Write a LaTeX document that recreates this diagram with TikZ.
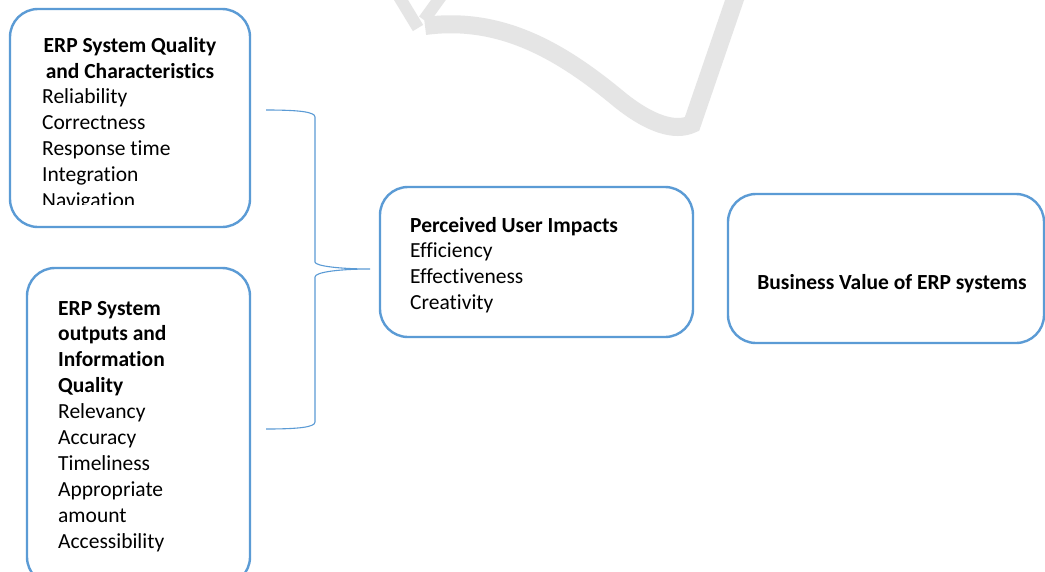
\documentclass[tikz,border=0pt]{standalone}
\usepackage{fontspec}
\setmainfont{Carlito}[Ligatures=NoCommon]
\usepackage{tikz}
\usetikzlibrary{positioning,calc}

\definecolor{boxblue}{RGB}{91,155,213}
\definecolor{markgray}{RGB}{229,229,229}
\newcommand{\boxfont}{\fontsize{21.5}{26}\selectfont}

\tikzset{
    box/.style={draw=boxblue, line width=2.4pt, rounded corners=28pt, inner sep=0pt},
    brace/.style={draw=boxblue, line width=1.1pt},
    head/.style={font=\boxfont\bfseries, inner sep=0pt, anchor=base},
    bold/.style={font=\boxfont\bfseries, inner sep=0pt, anchor=base west},
    item/.style={font=\boxfont, inner sep=0pt, anchor=base west},
}

\begin{document}
\begin{tikzpicture}[x=1pt, y=-1pt]
    \clip (0,0) rectangle (1045,571);
    \fill[white] (0,0) rectangle (1045,571);

    % watermark in the background
    \draw[markgray, line width=18pt, line join=miter]
        (425,26) .. controls (500,16) and (560,50) .. (620,100)
        .. controls (650,124) and (675,132) .. (692,124) -- (738,-10);
    \draw[markgray, line width=12pt] (398,-5) -- (418,28);
    \draw[markgray, line width=12pt] (442,-5) -- (424,20);

    % Boxes
    \node [box, minimum width=240pt, minimum height=218pt] (quality) at (130,118) {};
    \node [box, minimum width=223pt, minimum height=317pt] (outputs) at (138.5,426.5) {};
    \node [box, minimum width=313pt, minimum height=150pt] (impacts) at (536.5,262) {};
    \node [box, minimum width=316pt, minimum height=149pt] (value) at (886,268.5) {};

    % ERP system quality
    \node [head] (qhead1) at (130,52) {ERP System Quality};
    \node [head] (qhead2) at (130,78) {and Characteristics};
    \begin{scope}
        \clip (0,0) rectangle (250,204);
        \foreach \t [count=\i] in {Reliability, Correctness, Response time, Integration, Navigation}
            \node [item] (qitem\i) at (42, 77.5+25.9*\i) {\t};
    \end{scope}

    % ERP system outputs
    \foreach \t [count=\i] in {ERP System, outputs and, Information, Quality}
        \node [bold] (ohead\i) at (58, 289.1+25.9*\i) {\t};
    \foreach \t [count=\i] in {Relevancy, Accuracy, Timeliness, Appropriate, amount, Accessibility}
        \node [item] (oitem\i) at (58, 392.7+25.9*\i) {\t};

    % Perceived user impacts
    \node [bold] (ihead) at (410,232) {Perceived User Impacts};
    \foreach \t [count=\i] in {Efficiency, Effectiveness, Creativity}
        \node [item] (iitem\i) at (410, 232+25.9*\i) {\t};

    % Business value
    \node [head] (vhead) at (892,289) {Business Value of ERP systems};

    % Brace
    \coordinate (btop) at (266,110);
    \coordinate (btip) at (370,269);
    \coordinate (bbot) at (266,429);
    \draw [brace] (btop) .. controls (300,110) and (315,112) .. (315,117) -- (315,262)
        .. controls (315,266) and (340,269) .. (btip)
        .. controls (340,269) and (315,272) .. (315,277) -- (315,422)
        .. controls (315,427) and (300,429) .. (bbot);
\end{tikzpicture}
\end{document}
